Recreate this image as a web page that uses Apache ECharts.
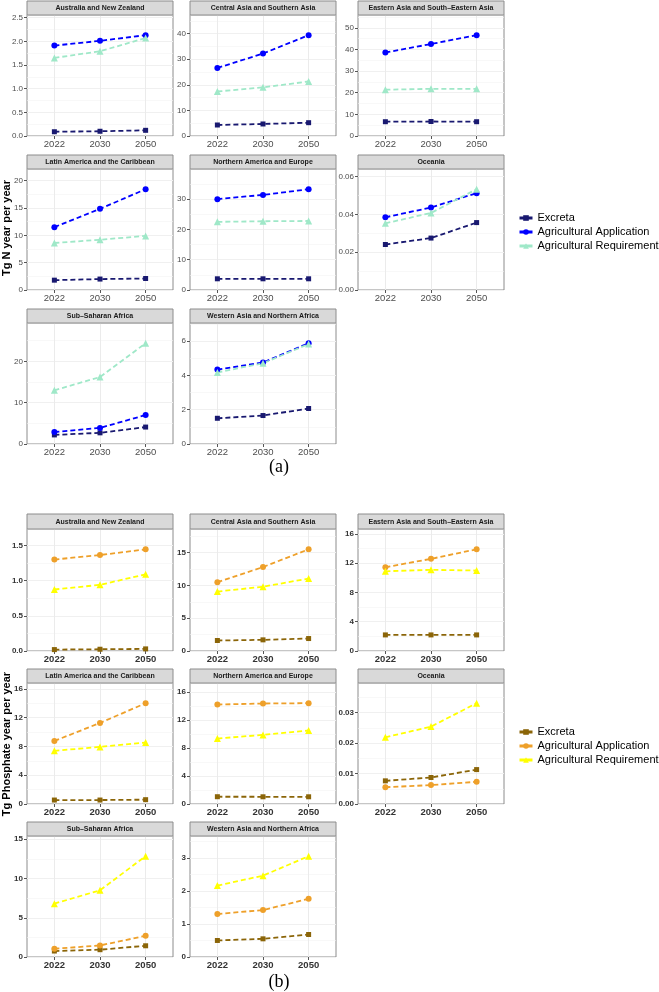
<!DOCTYPE html>
<html><head><meta charset="utf-8">
<script src="https://cdn.jsdelivr.net/npm/echarts@6/dist/echarts.min.js"></script>
<style>html,body{margin:0;padding:0;background:#fff}#c{width:659px;height:992px}</style>
</head><body><div id="c"></div>
<script>
// ---------------- DATA ----------------
const years = ['2022', '2030', '2050'];
const regions = [
  'Australia and New Zealand',
  'Central Asia and Southern Asia',
  'Eastern Asia and South\u2013Eastern Asia',
  'Latin America and the Caribbean',
  'Northern America and Europe',
  'Oceania',
  'Sub\u2013Saharan Africa',
  'Western Asia and Northern Africa'
];
const seriesNames = ['Excreta', 'Agricultural Application', 'Agricultural Requirement'];

// (a) Nitrogen, Tg N per year
const nExcreta = [[0.09,0.10,0.12],[4.3,4.7,5.2],[6.6,6.7,6.6],[1.8,2.0,2.1],[3.7,3.7,3.7],[0.0241,0.0275,0.0357],[2.2,2.7,4.1],[1.50,1.66,2.07]];
const nApplication = [[1.91,2.01,2.13],[26.6,32.2,39.4],[38.6,42.5,46.6],[11.5,14.85,18.45],[30.0,31.4,33.3],[0.0385,0.0437,0.0513],[2.9,3.9,7.0],[4.34,4.75,5.88]];
const nRequirement = [[1.65,1.79,2.07],[17.4,19.0,21.3],[21.4,21.8,21.8],[8.6,9.2,9.9],[22.5,22.7,22.8],[0.0353,0.0408,0.0534],[13.0,16.2,24.4],[4.17,4.71,5.83]];
const nTicks = [['0.0','0.5','1.0','1.5','2.0','2.5'],['0','10','20','30','40'],['0','10','20','30','40','50'],['0','5','10','15','20'],['0','10','20','30','40'],['0.00','0.02','0.04','0.06'],['0','10','20'],['0','2','4','6']];

// (b) Phosphate, Tg per year
const pExcreta = [[0.02,0.025,0.03],[1.6,1.7,1.9],[2.2,2.2,2.2],[0.55,0.55,0.6],[1.04,1.03,1.03],[0.0076,0.0087,0.0113],[0.76,0.93,1.43],[0.50,0.55,0.68]];
const pApplication = [[1.30,1.364,1.445],[10.5,12.8,15.5],[11.45,12.6,13.9],[8.76,11.25,14.0],[14.2,14.35,14.4],[0.0055,0.0062,0.0073],[1.05,1.47,2.7],[1.30,1.42,1.76]];
const pRequirement = [[0.874,0.94,1.09],[9.06,9.8,11.05],[10.9,11.1,11.0],[7.38,7.93,8.53],[9.35,9.87,10.5],[0.0219,0.0254,0.0331],[6.8,8.5,12.85],[2.16,2.46,3.05]];
const pTicks = [['0.0','0.5','1.0','1.5'],['0','5','10','15'],['0','4','8','12','16'],['0','4','8','12','16'],['0','4','8','12','16'],['0.00','0.01','0.02','0.03'],['0','5','10','15'],['0','1','2','3']];

// ---------------- LAYOUT / STYLE ----------------
const FONT = '"Liberation Sans", Arial, Helvetica, sans-serif';
const colX = [27, 190, 358];
const panelW = 146;
const symbols = ['rect', 'circle', 'triangle'];
const symbolSizes = [5, 6, 7];
const panels = [
  { data: [nExcreta, nApplication, nRequirement], ticks: nTicks,
    colors: ['#191970', '#0000ff', '#9fe8c8'],
    rows: [{strip:1, top:15, bottom:136}, {strip:155, top:169, bottom:290}, {strip:309, top:323, bottom:444}],
    bold: false, labelColor: '#4d4d4d',
    title: 'Tg N year per year', titleY: 228, tag: '(a)', tagY: 467, legendTop: 212 },
  { data: [pExcreta, pApplication, pRequirement], ticks: pTicks,
    colors: ['#8b6508', '#eea02a', '#ffff00'],
    rows: [{strip:514, top:529, bottom:651}, {strip:669, top:683, bottom:804}, {strip:822, top:836, bottom:957}],
    bold: true, labelColor: '#333333',
    title: 'Tg Phosphate year per year', titleY: 744, tag: '(b)', tagY: 982, legendTop: 726 }
];

const grids = [], xAxes = [], yAxes = [], series = [], graphic = [], legends = [];
let gi = 0;
panels.forEach((P, pi) => {
  regions.forEach((reg, k) => {
    const row = P.rows[Math.floor(k / 3)];
    const col = k % 3;
    const labels = P.ticks[k];
    const tv = labels.map(Number);
    const step = tv[1] - tv[0];
    const allVals = [].concat(P.data[0][k], P.data[1][k], P.data[2][k]);
    const ymax = Math.max.apply(null, allVals) * 1.2;
    grids.push({ left: colX[col], top: row.top, width: panelW, height: row.bottom - row.top,
      show: true, borderColor: '#8c8c8c', borderWidth: 1, backgroundColor: '#fff' });
    xAxes.push({ type: 'value', gridIndex: gi, min: 0.4, max: 3.6,
      axisLine: { show: false },
      axisTick: { show: true, customValues: [1, 2, 3], length: 3, lineStyle: { color: '#555' } },
      axisLabel: { customValues: [1, 2, 3], formatter: v => years[Math.round(v) - 1], fontSize: 9.5,
        color: P.labelColor, fontWeight: P.bold ? 'bold' : 'normal', fontFamily: FONT, margin: 3 },
      splitLine: { show: true, lineStyle: { color: '#ebebeb', width: 1 } } });
    yAxes.push({ type: 'value', gridIndex: gi, min: 0, max: ymax,
      axisLine: { show: false },
      axisTick: { show: true, customValues: tv, length: 3, lineStyle: { color: '#555' } },
      axisLabel: { customValues: tv, fontSize: 8, color: P.labelColor,
        fontWeight: P.bold ? 'bold' : 'normal', fontFamily: FONT, margin: 4,
        formatter: v => { let best = 0; tv.forEach((t, i) => { if (Math.abs(t - v) < Math.abs(tv[best] - v)) best = i; }); return labels[best]; } },
      splitLine: { show: true, lineStyle: { color: '#ebebeb', width: 1 } } });
    yAxes.push({ type: 'value', gridIndex: gi, min: 0, max: ymax, interval: step / 2,
      axisLine: { show: false }, axisTick: { show: false }, axisLabel: { show: false },
      splitLine: { show: true, lineStyle: { color: '#f3f3f3', width: 0.6 } } });
    for (let s = 0; s < 3; s++) {
      series.push({ type: 'line', name: seriesNames[s], xAxisIndex: gi, yAxisIndex: 2 * gi,
        data: P.data[s][k].map((v, j) => [j + 1, v]),
        symbol: symbols[s], symbolSize: symbolSizes[s], showSymbol: true,
        lineStyle: { color: P.colors[s], width: 1.8, type: [5, 3] },
        itemStyle: { color: P.colors[s] },
        emphasis: { disabled: true }, silent: true, animation: false });
    }
    graphic.push({ type: 'rect', shape: { x: colX[col], y: row.strip, width: panelW, height: row.top - row.strip },
      style: { fill: '#d9d9d9', stroke: '#8c8c8c', lineWidth: 1 }, z: 10 });
    graphic.push({ type: 'text', x: colX[col] + panelW / 2, y: (row.strip + row.top) / 2 + 0.5, z: 11,
      style: { text: reg, font: 'bold 7px ' + FONT, fill: '#1a1a1a', align: 'center', verticalAlign: 'middle',
        textAlign: 'center', textVerticalAlign: 'middle' } });
    gi++;
  });
  graphic.push({ type: 'text', x: 7, y: P.titleY, rotation: Math.PI / 2,
    style: { text: P.title, font: 'bold 11px ' + FONT, fill: '#000', align: 'center', verticalAlign: 'middle',
      textAlign: 'center', textVerticalAlign: 'middle' } });
  graphic.push({ type: 'text', x: 279, y: P.tagY,
    style: { text: P.tag, font: '18px "Liberation Serif", "Times New Roman", serif', fill: '#000',
      align: 'center', verticalAlign: 'middle', textAlign: 'center', textVerticalAlign: 'middle' } });
  legends.push({ orient: 'vertical', left: 518, top: P.legendTop, padding: 0, itemWidth: 13, itemHeight: 7, itemGap: 2,
    selectedMode: false,
    textStyle: { fontSize: 11, color: '#000', fontFamily: FONT, lineHeight: 12 },
    data: seriesNames.map((n, i) => ({ name: n,
      itemStyle: { color: P.colors[i] }, lineStyle: { color: P.colors[i], width: 3, type: 'solid' } })) });
});

const chart = echarts.init(document.getElementById('c'), null, { renderer: 'canvas' });
chart.setOption({
  backgroundColor: '#fff',
  animation: false,
  textStyle: { fontFamily: FONT },
  grid: grids, xAxis: xAxes, yAxis: yAxes, series: series,
  legend: legends, graphic: graphic
});
</script></body></html>
